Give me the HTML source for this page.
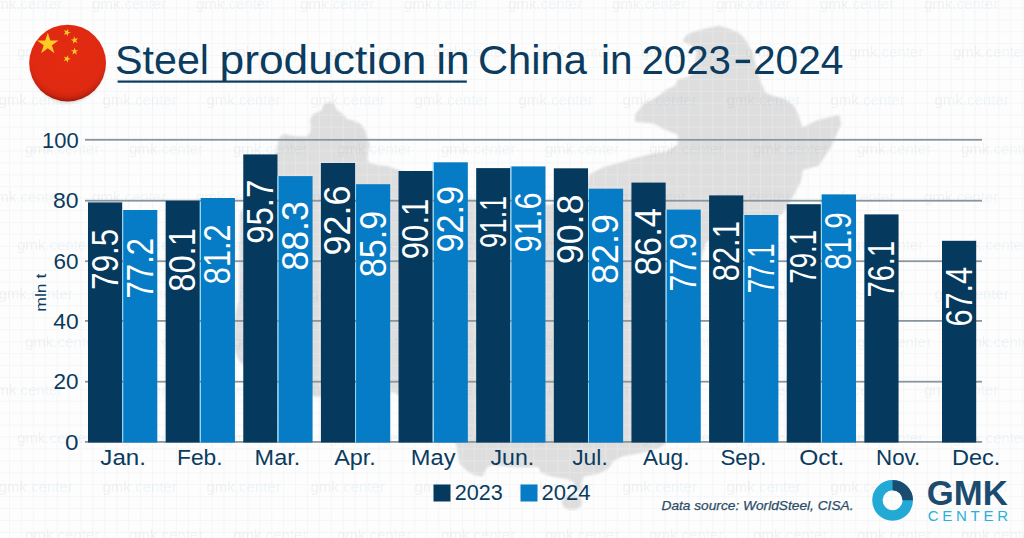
<!DOCTYPE html>
<html><head><meta charset="utf-8"><title>Steel production in China in 2023-2024</title>
<style>html,body{margin:0;padding:0;background:#fdfdfd;}body{width:1024px;height:538px;overflow:hidden;font-family:"Liberation Sans",sans-serif;}svg{display:block;font-family:"Liberation Sans",sans-serif;}</style></head><body>
<svg width="1024" height="538" viewBox="0 0 1024 538">
<defs>
<pattern id="grid" x="9" y="7.4" width="11.92" height="11.92" patternUnits="userSpaceOnUse"><path d="M0.5 0V11.92M0 0.5H11.92" stroke="#f5f6f6" stroke-width="1.1" fill="none"/></pattern>
<radialGradient id="flagg" cx="0.5" cy="0.4" r="0.6"><stop offset="0" stop-color="#e32b11"/><stop offset="0.8" stop-color="#df2a11"/><stop offset="0.91" stop-color="#cb2410"/><stop offset="1" stop-color="#9c1a09"/></radialGradient><filter id="blur1" x="-5%" y="-5%" width="110%" height="110%"><feGaussianBlur stdDeviation="0.9"/></filter><filter id="blur2" x="-20%" y="-20%" width="140%" height="140%"><feGaussianBlur stdDeviation="1.5"/></filter>
</defs>
<rect width="1024" height="538" fill="#fdfdfd"/>
<rect width="1024" height="538" fill="url(#grid)"/>
<polygon points="279,142 281,137 285,135 290,136.6 300,137.4 307,137.6 311,133.5 312,126.8 311,120 313.6,115 318,113 322,111.6 324.4,105 329.5,103.2 333.6,105 335.3,110 340.3,113.4 347,120 353.7,121.8 360.4,125 364.6,131.8 367,140 368.8,145 367,153.6 366.3,159.4 368.8,163.6 377,166 387.2,167 393.9,169.5 399,171 430,186 472,201 549,206 585,195 590.5,175 603,168.5 625,162 647,156 666,152.6 679,145 679,134 666,129 654,122.6 636,121 636,115 644,105 660,96 667,90.3 675.4,87 678.7,80.3 687.1,78.6 695,74 696,64 698,51.6 691,44 683.8,40.9 687.1,35.9 693.8,32.6 707.2,29.2 718.9,26.7 727.3,29.2 736.7,32.6 741.7,36.7 746.7,43.4 751.8,53.5 755,65.2 757.6,75.2 761,85.3 765.1,93.6 773.5,97 785.2,100.3 793.6,107 797.4,115 802,129 818,121 838.5,116 840,124 830.6,146 818,165 802,169 800,181 790,200 782,213 745,230 705,241 700,260 690,300 700,350 690,400 664,443.5 658,447.6 643.2,451.4 622.8,455.2 612.7,460.3 607.6,468 597.4,473 583,475.6 581,482 579.5,490 575.5,489 574.6,481 567,478 551.7,475.6 541.6,471.7 539,465.8 520,466.5 505,465.5 490.8,464 485.7,468 481.9,475.6 474,474 467.9,470.5 460.3,462.9 457,443.6 447,432 430,415 394,391 360,392 316,396 280,382 241,362 234,348 234,322 240,300 241,214 262,175 278,152" fill="#dedede" stroke="#dedede" stroke-width="2" stroke-linejoin="round" filter="url(#blur1)"/>
<ellipse cx="572" cy="502.3" rx="10.2" ry="7.6" fill="#dedede" filter="url(#blur1)"/>
<rect width="1024" height="538" fill="url(#grid)" opacity="0.3"/>
<g font-size="15" opacity="1">
<text x="-12.0" y="8.7" fill="#4a5560" fill-opacity="0.085">gmk<tspan fill="#1f78bb" fill-opacity="0.075">.center</tspan></text>
<text x="92.0" y="8.7" fill="#4a5560" fill-opacity="0.085">gmk<tspan fill="#1f78bb" fill-opacity="0.075">.center</tspan></text>
<text x="196.0" y="8.7" fill="#4a5560" fill-opacity="0.085">gmk<tspan fill="#1f78bb" fill-opacity="0.075">.center</tspan></text>
<text x="300.0" y="8.7" fill="#4a5560" fill-opacity="0.085">gmk<tspan fill="#1f78bb" fill-opacity="0.075">.center</tspan></text>
<text x="404.0" y="8.7" fill="#4a5560" fill-opacity="0.085">gmk<tspan fill="#1f78bb" fill-opacity="0.075">.center</tspan></text>
<text x="508.0" y="8.7" fill="#4a5560" fill-opacity="0.085">gmk<tspan fill="#1f78bb" fill-opacity="0.075">.center</tspan></text>
<text x="612.0" y="8.7" fill="#4a5560" fill-opacity="0.085">gmk<tspan fill="#1f78bb" fill-opacity="0.075">.center</tspan></text>
<text x="716.0" y="8.7" fill="#4a5560" fill-opacity="0.085">gmk<tspan fill="#1f78bb" fill-opacity="0.075">.center</tspan></text>
<text x="820.0" y="8.7" fill="#4a5560" fill-opacity="0.085">gmk<tspan fill="#1f78bb" fill-opacity="0.075">.center</tspan></text>
<text x="924.0" y="8.7" fill="#4a5560" fill-opacity="0.085">gmk<tspan fill="#1f78bb" fill-opacity="0.075">.center</tspan></text>
<text x="1028.0" y="8.7" fill="#4a5560" fill-opacity="0.085">gmk<tspan fill="#1f78bb" fill-opacity="0.075">.center</tspan></text>
<text x="17.0" y="57.0" fill="#4a5560" fill-opacity="0.085">gmk<tspan fill="#1f78bb" fill-opacity="0.075">.center</tspan></text>
<text x="121.0" y="57.0" fill="#4a5560" fill-opacity="0.085">gmk<tspan fill="#1f78bb" fill-opacity="0.075">.center</tspan></text>
<text x="225.0" y="57.0" fill="#4a5560" fill-opacity="0.085">gmk<tspan fill="#1f78bb" fill-opacity="0.075">.center</tspan></text>
<text x="329.0" y="57.0" fill="#4a5560" fill-opacity="0.085">gmk<tspan fill="#1f78bb" fill-opacity="0.075">.center</tspan></text>
<text x="433.0" y="57.0" fill="#4a5560" fill-opacity="0.085">gmk<tspan fill="#1f78bb" fill-opacity="0.075">.center</tspan></text>
<text x="537.0" y="57.0" fill="#4a5560" fill-opacity="0.085">gmk<tspan fill="#1f78bb" fill-opacity="0.075">.center</tspan></text>
<text x="641.0" y="57.0" fill="#4a5560" fill-opacity="0.085">gmk<tspan fill="#1f78bb" fill-opacity="0.075">.center</tspan></text>
<text x="745.0" y="57.0" fill="#4a5560" fill-opacity="0.085">gmk<tspan fill="#1f78bb" fill-opacity="0.075">.center</tspan></text>
<text x="849.0" y="57.0" fill="#4a5560" fill-opacity="0.085">gmk<tspan fill="#1f78bb" fill-opacity="0.075">.center</tspan></text>
<text x="953.0" y="57.0" fill="#4a5560" fill-opacity="0.085">gmk<tspan fill="#1f78bb" fill-opacity="0.075">.center</tspan></text>
<text x="1057.0" y="57.0" fill="#4a5560" fill-opacity="0.085">gmk<tspan fill="#1f78bb" fill-opacity="0.075">.center</tspan></text>
<text x="-1.5" y="105.3" fill="#4a5560" fill-opacity="0.085">gmk<tspan fill="#1f78bb" fill-opacity="0.075">.center</tspan></text>
<text x="102.5" y="105.3" fill="#4a5560" fill-opacity="0.085">gmk<tspan fill="#1f78bb" fill-opacity="0.075">.center</tspan></text>
<text x="206.5" y="105.3" fill="#4a5560" fill-opacity="0.085">gmk<tspan fill="#1f78bb" fill-opacity="0.075">.center</tspan></text>
<text x="310.5" y="105.3" fill="#4a5560" fill-opacity="0.085">gmk<tspan fill="#1f78bb" fill-opacity="0.075">.center</tspan></text>
<text x="414.5" y="105.3" fill="#4a5560" fill-opacity="0.085">gmk<tspan fill="#1f78bb" fill-opacity="0.075">.center</tspan></text>
<text x="518.5" y="105.3" fill="#4a5560" fill-opacity="0.085">gmk<tspan fill="#1f78bb" fill-opacity="0.075">.center</tspan></text>
<text x="622.5" y="105.3" fill="#4a5560" fill-opacity="0.085">gmk<tspan fill="#1f78bb" fill-opacity="0.075">.center</tspan></text>
<text x="726.5" y="105.3" fill="#4a5560" fill-opacity="0.085">gmk<tspan fill="#1f78bb" fill-opacity="0.075">.center</tspan></text>
<text x="830.5" y="105.3" fill="#4a5560" fill-opacity="0.085">gmk<tspan fill="#1f78bb" fill-opacity="0.075">.center</tspan></text>
<text x="934.5" y="105.3" fill="#4a5560" fill-opacity="0.085">gmk<tspan fill="#1f78bb" fill-opacity="0.075">.center</tspan></text>
<text x="1038.5" y="105.3" fill="#4a5560" fill-opacity="0.085">gmk<tspan fill="#1f78bb" fill-opacity="0.075">.center</tspan></text>
<text x="25.0" y="153.6" fill="#4a5560" fill-opacity="0.085">gmk<tspan fill="#1f78bb" fill-opacity="0.075">.center</tspan></text>
<text x="129.0" y="153.6" fill="#4a5560" fill-opacity="0.085">gmk<tspan fill="#1f78bb" fill-opacity="0.075">.center</tspan></text>
<text x="233.0" y="153.6" fill="#4a5560" fill-opacity="0.085">gmk<tspan fill="#1f78bb" fill-opacity="0.075">.center</tspan></text>
<text x="337.0" y="153.6" fill="#4a5560" fill-opacity="0.085">gmk<tspan fill="#1f78bb" fill-opacity="0.075">.center</tspan></text>
<text x="441.0" y="153.6" fill="#4a5560" fill-opacity="0.085">gmk<tspan fill="#1f78bb" fill-opacity="0.075">.center</tspan></text>
<text x="545.0" y="153.6" fill="#4a5560" fill-opacity="0.085">gmk<tspan fill="#1f78bb" fill-opacity="0.075">.center</tspan></text>
<text x="649.0" y="153.6" fill="#4a5560" fill-opacity="0.085">gmk<tspan fill="#1f78bb" fill-opacity="0.075">.center</tspan></text>
<text x="753.0" y="153.6" fill="#4a5560" fill-opacity="0.085">gmk<tspan fill="#1f78bb" fill-opacity="0.075">.center</tspan></text>
<text x="857.0" y="153.6" fill="#4a5560" fill-opacity="0.085">gmk<tspan fill="#1f78bb" fill-opacity="0.075">.center</tspan></text>
<text x="961.0" y="153.6" fill="#4a5560" fill-opacity="0.085">gmk<tspan fill="#1f78bb" fill-opacity="0.075">.center</tspan></text>
<text x="1065.0" y="153.6" fill="#4a5560" fill-opacity="0.085">gmk<tspan fill="#1f78bb" fill-opacity="0.075">.center</tspan></text>
<text x="-12.0" y="201.9" fill="#4a5560" fill-opacity="0.085">gmk<tspan fill="#1f78bb" fill-opacity="0.075">.center</tspan></text>
<text x="92.0" y="201.9" fill="#4a5560" fill-opacity="0.085">gmk<tspan fill="#1f78bb" fill-opacity="0.075">.center</tspan></text>
<text x="196.0" y="201.9" fill="#4a5560" fill-opacity="0.085">gmk<tspan fill="#1f78bb" fill-opacity="0.075">.center</tspan></text>
<text x="300.0" y="201.9" fill="#4a5560" fill-opacity="0.085">gmk<tspan fill="#1f78bb" fill-opacity="0.075">.center</tspan></text>
<text x="404.0" y="201.9" fill="#4a5560" fill-opacity="0.085">gmk<tspan fill="#1f78bb" fill-opacity="0.075">.center</tspan></text>
<text x="508.0" y="201.9" fill="#4a5560" fill-opacity="0.085">gmk<tspan fill="#1f78bb" fill-opacity="0.075">.center</tspan></text>
<text x="612.0" y="201.9" fill="#4a5560" fill-opacity="0.085">gmk<tspan fill="#1f78bb" fill-opacity="0.075">.center</tspan></text>
<text x="716.0" y="201.9" fill="#4a5560" fill-opacity="0.085">gmk<tspan fill="#1f78bb" fill-opacity="0.075">.center</tspan></text>
<text x="820.0" y="201.9" fill="#4a5560" fill-opacity="0.085">gmk<tspan fill="#1f78bb" fill-opacity="0.075">.center</tspan></text>
<text x="924.0" y="201.9" fill="#4a5560" fill-opacity="0.085">gmk<tspan fill="#1f78bb" fill-opacity="0.075">.center</tspan></text>
<text x="1028.0" y="201.9" fill="#4a5560" fill-opacity="0.085">gmk<tspan fill="#1f78bb" fill-opacity="0.075">.center</tspan></text>
<text x="17.0" y="250.2" fill="#4a5560" fill-opacity="0.085">gmk<tspan fill="#1f78bb" fill-opacity="0.075">.center</tspan></text>
<text x="121.0" y="250.2" fill="#4a5560" fill-opacity="0.085">gmk<tspan fill="#1f78bb" fill-opacity="0.075">.center</tspan></text>
<text x="225.0" y="250.2" fill="#4a5560" fill-opacity="0.085">gmk<tspan fill="#1f78bb" fill-opacity="0.075">.center</tspan></text>
<text x="329.0" y="250.2" fill="#4a5560" fill-opacity="0.085">gmk<tspan fill="#1f78bb" fill-opacity="0.075">.center</tspan></text>
<text x="433.0" y="250.2" fill="#4a5560" fill-opacity="0.085">gmk<tspan fill="#1f78bb" fill-opacity="0.075">.center</tspan></text>
<text x="537.0" y="250.2" fill="#4a5560" fill-opacity="0.085">gmk<tspan fill="#1f78bb" fill-opacity="0.075">.center</tspan></text>
<text x="641.0" y="250.2" fill="#4a5560" fill-opacity="0.085">gmk<tspan fill="#1f78bb" fill-opacity="0.075">.center</tspan></text>
<text x="745.0" y="250.2" fill="#4a5560" fill-opacity="0.085">gmk<tspan fill="#1f78bb" fill-opacity="0.075">.center</tspan></text>
<text x="849.0" y="250.2" fill="#4a5560" fill-opacity="0.085">gmk<tspan fill="#1f78bb" fill-opacity="0.075">.center</tspan></text>
<text x="953.0" y="250.2" fill="#4a5560" fill-opacity="0.085">gmk<tspan fill="#1f78bb" fill-opacity="0.075">.center</tspan></text>
<text x="1057.0" y="250.2" fill="#4a5560" fill-opacity="0.085">gmk<tspan fill="#1f78bb" fill-opacity="0.075">.center</tspan></text>
<text x="-1.5" y="298.5" fill="#4a5560" fill-opacity="0.085">gmk<tspan fill="#1f78bb" fill-opacity="0.075">.center</tspan></text>
<text x="102.5" y="298.5" fill="#4a5560" fill-opacity="0.085">gmk<tspan fill="#1f78bb" fill-opacity="0.075">.center</tspan></text>
<text x="206.5" y="298.5" fill="#4a5560" fill-opacity="0.085">gmk<tspan fill="#1f78bb" fill-opacity="0.075">.center</tspan></text>
<text x="310.5" y="298.5" fill="#4a5560" fill-opacity="0.085">gmk<tspan fill="#1f78bb" fill-opacity="0.075">.center</tspan></text>
<text x="414.5" y="298.5" fill="#4a5560" fill-opacity="0.085">gmk<tspan fill="#1f78bb" fill-opacity="0.075">.center</tspan></text>
<text x="518.5" y="298.5" fill="#4a5560" fill-opacity="0.085">gmk<tspan fill="#1f78bb" fill-opacity="0.075">.center</tspan></text>
<text x="622.5" y="298.5" fill="#4a5560" fill-opacity="0.085">gmk<tspan fill="#1f78bb" fill-opacity="0.075">.center</tspan></text>
<text x="726.5" y="298.5" fill="#4a5560" fill-opacity="0.085">gmk<tspan fill="#1f78bb" fill-opacity="0.075">.center</tspan></text>
<text x="830.5" y="298.5" fill="#4a5560" fill-opacity="0.085">gmk<tspan fill="#1f78bb" fill-opacity="0.075">.center</tspan></text>
<text x="934.5" y="298.5" fill="#4a5560" fill-opacity="0.085">gmk<tspan fill="#1f78bb" fill-opacity="0.075">.center</tspan></text>
<text x="1038.5" y="298.5" fill="#4a5560" fill-opacity="0.085">gmk<tspan fill="#1f78bb" fill-opacity="0.075">.center</tspan></text>
<text x="25.0" y="346.8" fill="#4a5560" fill-opacity="0.085">gmk<tspan fill="#1f78bb" fill-opacity="0.075">.center</tspan></text>
<text x="129.0" y="346.8" fill="#4a5560" fill-opacity="0.085">gmk<tspan fill="#1f78bb" fill-opacity="0.075">.center</tspan></text>
<text x="233.0" y="346.8" fill="#4a5560" fill-opacity="0.085">gmk<tspan fill="#1f78bb" fill-opacity="0.075">.center</tspan></text>
<text x="337.0" y="346.8" fill="#4a5560" fill-opacity="0.085">gmk<tspan fill="#1f78bb" fill-opacity="0.075">.center</tspan></text>
<text x="441.0" y="346.8" fill="#4a5560" fill-opacity="0.085">gmk<tspan fill="#1f78bb" fill-opacity="0.075">.center</tspan></text>
<text x="545.0" y="346.8" fill="#4a5560" fill-opacity="0.085">gmk<tspan fill="#1f78bb" fill-opacity="0.075">.center</tspan></text>
<text x="649.0" y="346.8" fill="#4a5560" fill-opacity="0.085">gmk<tspan fill="#1f78bb" fill-opacity="0.075">.center</tspan></text>
<text x="753.0" y="346.8" fill="#4a5560" fill-opacity="0.085">gmk<tspan fill="#1f78bb" fill-opacity="0.075">.center</tspan></text>
<text x="857.0" y="346.8" fill="#4a5560" fill-opacity="0.085">gmk<tspan fill="#1f78bb" fill-opacity="0.075">.center</tspan></text>
<text x="961.0" y="346.8" fill="#4a5560" fill-opacity="0.085">gmk<tspan fill="#1f78bb" fill-opacity="0.075">.center</tspan></text>
<text x="1065.0" y="346.8" fill="#4a5560" fill-opacity="0.085">gmk<tspan fill="#1f78bb" fill-opacity="0.075">.center</tspan></text>
<text x="-12.0" y="395.1" fill="#4a5560" fill-opacity="0.085">gmk<tspan fill="#1f78bb" fill-opacity="0.075">.center</tspan></text>
<text x="92.0" y="395.1" fill="#4a5560" fill-opacity="0.085">gmk<tspan fill="#1f78bb" fill-opacity="0.075">.center</tspan></text>
<text x="196.0" y="395.1" fill="#4a5560" fill-opacity="0.085">gmk<tspan fill="#1f78bb" fill-opacity="0.075">.center</tspan></text>
<text x="300.0" y="395.1" fill="#4a5560" fill-opacity="0.085">gmk<tspan fill="#1f78bb" fill-opacity="0.075">.center</tspan></text>
<text x="404.0" y="395.1" fill="#4a5560" fill-opacity="0.085">gmk<tspan fill="#1f78bb" fill-opacity="0.075">.center</tspan></text>
<text x="508.0" y="395.1" fill="#4a5560" fill-opacity="0.085">gmk<tspan fill="#1f78bb" fill-opacity="0.075">.center</tspan></text>
<text x="612.0" y="395.1" fill="#4a5560" fill-opacity="0.085">gmk<tspan fill="#1f78bb" fill-opacity="0.075">.center</tspan></text>
<text x="716.0" y="395.1" fill="#4a5560" fill-opacity="0.085">gmk<tspan fill="#1f78bb" fill-opacity="0.075">.center</tspan></text>
<text x="820.0" y="395.1" fill="#4a5560" fill-opacity="0.085">gmk<tspan fill="#1f78bb" fill-opacity="0.075">.center</tspan></text>
<text x="924.0" y="395.1" fill="#4a5560" fill-opacity="0.085">gmk<tspan fill="#1f78bb" fill-opacity="0.075">.center</tspan></text>
<text x="1028.0" y="395.1" fill="#4a5560" fill-opacity="0.085">gmk<tspan fill="#1f78bb" fill-opacity="0.075">.center</tspan></text>
<text x="17.0" y="443.4" fill="#4a5560" fill-opacity="0.085">gmk<tspan fill="#1f78bb" fill-opacity="0.075">.center</tspan></text>
<text x="121.0" y="443.4" fill="#4a5560" fill-opacity="0.085">gmk<tspan fill="#1f78bb" fill-opacity="0.075">.center</tspan></text>
<text x="225.0" y="443.4" fill="#4a5560" fill-opacity="0.085">gmk<tspan fill="#1f78bb" fill-opacity="0.075">.center</tspan></text>
<text x="329.0" y="443.4" fill="#4a5560" fill-opacity="0.085">gmk<tspan fill="#1f78bb" fill-opacity="0.075">.center</tspan></text>
<text x="433.0" y="443.4" fill="#4a5560" fill-opacity="0.085">gmk<tspan fill="#1f78bb" fill-opacity="0.075">.center</tspan></text>
<text x="537.0" y="443.4" fill="#4a5560" fill-opacity="0.085">gmk<tspan fill="#1f78bb" fill-opacity="0.075">.center</tspan></text>
<text x="641.0" y="443.4" fill="#4a5560" fill-opacity="0.085">gmk<tspan fill="#1f78bb" fill-opacity="0.075">.center</tspan></text>
<text x="745.0" y="443.4" fill="#4a5560" fill-opacity="0.085">gmk<tspan fill="#1f78bb" fill-opacity="0.075">.center</tspan></text>
<text x="849.0" y="443.4" fill="#4a5560" fill-opacity="0.085">gmk<tspan fill="#1f78bb" fill-opacity="0.075">.center</tspan></text>
<text x="953.0" y="443.4" fill="#4a5560" fill-opacity="0.085">gmk<tspan fill="#1f78bb" fill-opacity="0.075">.center</tspan></text>
<text x="1057.0" y="443.4" fill="#4a5560" fill-opacity="0.085">gmk<tspan fill="#1f78bb" fill-opacity="0.075">.center</tspan></text>
<text x="-1.5" y="491.7" fill="#4a5560" fill-opacity="0.085">gmk<tspan fill="#1f78bb" fill-opacity="0.075">.center</tspan></text>
<text x="102.5" y="491.7" fill="#4a5560" fill-opacity="0.085">gmk<tspan fill="#1f78bb" fill-opacity="0.075">.center</tspan></text>
<text x="206.5" y="491.7" fill="#4a5560" fill-opacity="0.085">gmk<tspan fill="#1f78bb" fill-opacity="0.075">.center</tspan></text>
<text x="310.5" y="491.7" fill="#4a5560" fill-opacity="0.085">gmk<tspan fill="#1f78bb" fill-opacity="0.075">.center</tspan></text>
<text x="414.5" y="491.7" fill="#4a5560" fill-opacity="0.085">gmk<tspan fill="#1f78bb" fill-opacity="0.075">.center</tspan></text>
<text x="518.5" y="491.7" fill="#4a5560" fill-opacity="0.085">gmk<tspan fill="#1f78bb" fill-opacity="0.075">.center</tspan></text>
<text x="622.5" y="491.7" fill="#4a5560" fill-opacity="0.085">gmk<tspan fill="#1f78bb" fill-opacity="0.075">.center</tspan></text>
<text x="726.5" y="491.7" fill="#4a5560" fill-opacity="0.085">gmk<tspan fill="#1f78bb" fill-opacity="0.075">.center</tspan></text>
<text x="830.5" y="491.7" fill="#4a5560" fill-opacity="0.085">gmk<tspan fill="#1f78bb" fill-opacity="0.075">.center</tspan></text>
<text x="934.5" y="491.7" fill="#4a5560" fill-opacity="0.085">gmk<tspan fill="#1f78bb" fill-opacity="0.075">.center</tspan></text>
<text x="1038.5" y="491.7" fill="#4a5560" fill-opacity="0.085">gmk<tspan fill="#1f78bb" fill-opacity="0.075">.center</tspan></text>
<text x="25.0" y="540.0" fill="#4a5560" fill-opacity="0.085">gmk<tspan fill="#1f78bb" fill-opacity="0.075">.center</tspan></text>
<text x="129.0" y="540.0" fill="#4a5560" fill-opacity="0.085">gmk<tspan fill="#1f78bb" fill-opacity="0.075">.center</tspan></text>
<text x="233.0" y="540.0" fill="#4a5560" fill-opacity="0.085">gmk<tspan fill="#1f78bb" fill-opacity="0.075">.center</tspan></text>
<text x="337.0" y="540.0" fill="#4a5560" fill-opacity="0.085">gmk<tspan fill="#1f78bb" fill-opacity="0.075">.center</tspan></text>
<text x="441.0" y="540.0" fill="#4a5560" fill-opacity="0.085">gmk<tspan fill="#1f78bb" fill-opacity="0.075">.center</tspan></text>
<text x="545.0" y="540.0" fill="#4a5560" fill-opacity="0.085">gmk<tspan fill="#1f78bb" fill-opacity="0.075">.center</tspan></text>
<text x="649.0" y="540.0" fill="#4a5560" fill-opacity="0.085">gmk<tspan fill="#1f78bb" fill-opacity="0.075">.center</tspan></text>
<text x="753.0" y="540.0" fill="#4a5560" fill-opacity="0.085">gmk<tspan fill="#1f78bb" fill-opacity="0.075">.center</tspan></text>
<text x="857.0" y="540.0" fill="#4a5560" fill-opacity="0.085">gmk<tspan fill="#1f78bb" fill-opacity="0.075">.center</tspan></text>
<text x="961.0" y="540.0" fill="#4a5560" fill-opacity="0.085">gmk<tspan fill="#1f78bb" fill-opacity="0.075">.center</tspan></text>
<text x="1065.0" y="540.0" fill="#4a5560" fill-opacity="0.085">gmk<tspan fill="#1f78bb" fill-opacity="0.075">.center</tspan></text>
</g>
<rect x="85" y="441.0" width="897" height="1.8" fill="#8a969e"/>
<text x="78.6" y="449.6" font-size="21.5" text-anchor="end" fill="#0b3b5e" textLength="13.5" lengthAdjust="spacingAndGlyphs">0</text>
<rect x="85" y="380.8" width="897" height="1.8" fill="#8a969e"/>
<text x="78.6" y="389.4" font-size="21.5" text-anchor="end" fill="#0b3b5e" textLength="25.0" lengthAdjust="spacingAndGlyphs">20</text>
<rect x="85" y="320.0" width="897" height="1.8" fill="#8a969e"/>
<text x="78.6" y="328.6" font-size="21.5" text-anchor="end" fill="#0b3b5e" textLength="25.3" lengthAdjust="spacingAndGlyphs">40</text>
<rect x="85" y="260.3" width="897" height="1.8" fill="#8a969e"/>
<text x="78.6" y="268.9" font-size="21.5" text-anchor="end" fill="#0b3b5e" textLength="25.0" lengthAdjust="spacingAndGlyphs">60</text>
<rect x="85" y="199.8" width="897" height="1.8" fill="#8a969e"/>
<text x="78.6" y="208.4" font-size="21.5" text-anchor="end" fill="#0b3b5e" textLength="25.5" lengthAdjust="spacingAndGlyphs">80</text>
<rect x="85" y="138.9" width="897" height="1.8" fill="#8a969e"/>
<text x="78.6" y="147.5" font-size="21.5" text-anchor="end" fill="#0b3b5e" textLength="36.6" lengthAdjust="spacingAndGlyphs">100</text>
<text transform="translate(46.4,292.7) rotate(-90)" font-size="15" text-anchor="middle" fill="#0b3b5e" textLength="38" lengthAdjust="spacingAndGlyphs">mln t</text>
<rect x="88.00" y="202.40" width="34.20" height="240.10" fill="#053a5e"/>
<text transform="translate(117.50,228.80) rotate(-90)" font-size="37" text-anchor="end" fill="#fff" textLength="61.00" lengthAdjust="spacingAndGlyphs">79.5</text>
<rect x="123.10" y="210.00" width="34.20" height="232.50" fill="#077cc6"/>
<rect x="122.15" y="210.00" width="1" height="232.50" fill="#8bd8fa"/>
<rect x="122.15" y="380.8" width="1" height="1.8" fill="#5f7888"/>
<rect x="122.15" y="320.0" width="1" height="1.8" fill="#5f7888"/>
<rect x="122.15" y="260.3" width="1" height="1.8" fill="#5f7888"/>
<text transform="translate(152.60,238.00) rotate(-90)" font-size="37" text-anchor="end" fill="#fff" textLength="60.40" lengthAdjust="spacingAndGlyphs">77.2</text>
<text x="100.35" y="465.3" font-size="21.5" fill="#0b3b5e" textLength="45.60" lengthAdjust="spacingAndGlyphs">Jan.</text>
<rect x="165.64" y="200.80" width="34.20" height="241.70" fill="#053a5e"/>
<text transform="translate(195.14,228.20) rotate(-90)" font-size="37" text-anchor="end" fill="#fff" textLength="63.60" lengthAdjust="spacingAndGlyphs">80.1</text>
<rect x="200.74" y="198.00" width="34.20" height="244.50" fill="#077cc6"/>
<rect x="199.79" y="198.00" width="1" height="244.50" fill="#8bd8fa"/>
<rect x="199.79" y="380.8" width="1" height="1.8" fill="#5f7888"/>
<rect x="199.79" y="320.0" width="1" height="1.8" fill="#5f7888"/>
<rect x="199.79" y="260.3" width="1" height="1.8" fill="#5f7888"/>
<rect x="199.79" y="199.8" width="1" height="1.8" fill="#5f7888"/>
<text transform="translate(230.24,224.40) rotate(-90)" font-size="37" text-anchor="end" fill="#fff" textLength="59.80" lengthAdjust="spacingAndGlyphs">81.2</text>
<text x="176.99" y="465.3" font-size="21.5" fill="#0b3b5e" textLength="45.60" lengthAdjust="spacingAndGlyphs">Feb.</text>
<rect x="243.27" y="154.40" width="34.20" height="288.10" fill="#053a5e"/>
<text transform="translate(272.77,179.80) rotate(-90)" font-size="37" text-anchor="end" fill="#fff" textLength="64.00" lengthAdjust="spacingAndGlyphs">95.7</text>
<rect x="278.37" y="176.10" width="34.20" height="266.40" fill="#077cc6"/>
<rect x="277.42" y="176.10" width="1" height="266.40" fill="#8bd8fa"/>
<rect x="277.42" y="380.8" width="1" height="1.8" fill="#5f7888"/>
<rect x="277.42" y="320.0" width="1" height="1.8" fill="#5f7888"/>
<rect x="277.42" y="260.3" width="1" height="1.8" fill="#5f7888"/>
<rect x="277.42" y="199.8" width="1" height="1.8" fill="#5f7888"/>
<text transform="translate(307.87,201.10) rotate(-90)" font-size="37" text-anchor="end" fill="#fff" textLength="69.60" lengthAdjust="spacingAndGlyphs">88.3</text>
<text x="254.62" y="465.3" font-size="21.5" fill="#0b3b5e" textLength="45.60" lengthAdjust="spacingAndGlyphs">Mar.</text>
<rect x="320.91" y="163.00" width="34.20" height="279.50" fill="#053a5e"/>
<text transform="translate(350.41,185.60) rotate(-90)" font-size="37" text-anchor="end" fill="#fff" textLength="70.00" lengthAdjust="spacingAndGlyphs">92.6</text>
<rect x="356.01" y="184.20" width="34.20" height="258.30" fill="#077cc6"/>
<rect x="355.06" y="184.20" width="1" height="258.30" fill="#8bd8fa"/>
<rect x="355.06" y="380.8" width="1" height="1.8" fill="#5f7888"/>
<rect x="355.06" y="320.0" width="1" height="1.8" fill="#5f7888"/>
<rect x="355.06" y="260.3" width="1" height="1.8" fill="#5f7888"/>
<rect x="355.06" y="199.8" width="1" height="1.8" fill="#5f7888"/>
<text transform="translate(385.51,210.80) rotate(-90)" font-size="37" text-anchor="end" fill="#fff" textLength="66.40" lengthAdjust="spacingAndGlyphs">85.9</text>
<text x="334.26" y="465.3" font-size="21.5" fill="#0b3b5e" textLength="41.60" lengthAdjust="spacingAndGlyphs">Apr.</text>
<rect x="398.54" y="171.00" width="34.20" height="271.50" fill="#053a5e"/>
<text transform="translate(428.04,198.60) rotate(-90)" font-size="37" text-anchor="end" fill="#fff" textLength="60.60" lengthAdjust="spacingAndGlyphs">90.1</text>
<rect x="433.64" y="162.30" width="34.20" height="280.20" fill="#077cc6"/>
<rect x="432.69" y="162.30" width="1" height="280.20" fill="#8bd8fa"/>
<rect x="432.69" y="380.8" width="1" height="1.8" fill="#5f7888"/>
<rect x="432.69" y="320.0" width="1" height="1.8" fill="#5f7888"/>
<rect x="432.69" y="260.3" width="1" height="1.8" fill="#5f7888"/>
<rect x="432.69" y="199.8" width="1" height="1.8" fill="#5f7888"/>
<text transform="translate(463.14,185.90) rotate(-90)" font-size="37" text-anchor="end" fill="#fff" textLength="66.60" lengthAdjust="spacingAndGlyphs">92.9</text>
<text x="410.89" y="465.3" font-size="21.5" fill="#0b3b5e" textLength="44.60" lengthAdjust="spacingAndGlyphs">May</text>
<rect x="476.18" y="168.10" width="34.20" height="274.40" fill="#053a5e"/>
<text transform="translate(505.68,195.90) rotate(-90)" font-size="37" text-anchor="end" fill="#fff" textLength="52.20" lengthAdjust="spacingAndGlyphs">91.1</text>
<rect x="511.28" y="166.40" width="34.20" height="276.10" fill="#077cc6"/>
<rect x="510.33" y="166.40" width="1" height="276.10" fill="#8bd8fa"/>
<rect x="510.33" y="380.8" width="1" height="1.8" fill="#5f7888"/>
<rect x="510.33" y="320.0" width="1" height="1.8" fill="#5f7888"/>
<rect x="510.33" y="260.3" width="1" height="1.8" fill="#5f7888"/>
<rect x="510.33" y="199.8" width="1" height="1.8" fill="#5f7888"/>
<text transform="translate(540.78,192.40) rotate(-90)" font-size="37" text-anchor="end" fill="#fff" textLength="60.00" lengthAdjust="spacingAndGlyphs">91.6</text>
<text x="490.53" y="465.3" font-size="21.5" fill="#0b3b5e" textLength="43.60" lengthAdjust="spacingAndGlyphs">Jun.</text>
<rect x="553.82" y="168.30" width="34.20" height="274.20" fill="#053a5e"/>
<text transform="translate(583.32,194.50) rotate(-90)" font-size="37" text-anchor="end" fill="#fff" textLength="69.80" lengthAdjust="spacingAndGlyphs">90.8</text>
<rect x="588.92" y="188.70" width="34.20" height="253.80" fill="#077cc6"/>
<rect x="587.97" y="188.70" width="1" height="253.80" fill="#8bd8fa"/>
<rect x="587.97" y="380.8" width="1" height="1.8" fill="#5f7888"/>
<rect x="587.97" y="320.0" width="1" height="1.8" fill="#5f7888"/>
<rect x="587.97" y="260.3" width="1" height="1.8" fill="#5f7888"/>
<rect x="587.97" y="199.8" width="1" height="1.8" fill="#5f7888"/>
<text transform="translate(618.42,214.10) rotate(-90)" font-size="37" text-anchor="end" fill="#fff" textLength="70.00" lengthAdjust="spacingAndGlyphs">82.9</text>
<text x="572.17" y="465.3" font-size="21.5" fill="#0b3b5e" textLength="35.60" lengthAdjust="spacingAndGlyphs">Jul.</text>
<rect x="631.45" y="182.60" width="34.20" height="259.90" fill="#053a5e"/>
<text transform="translate(660.95,207.80) rotate(-90)" font-size="37" text-anchor="end" fill="#fff" textLength="67.80" lengthAdjust="spacingAndGlyphs">86.4</text>
<rect x="666.55" y="209.60" width="34.20" height="232.90" fill="#077cc6"/>
<rect x="665.60" y="209.60" width="1" height="232.90" fill="#8bd8fa"/>
<rect x="665.60" y="380.8" width="1" height="1.8" fill="#5f7888"/>
<rect x="665.60" y="320.0" width="1" height="1.8" fill="#5f7888"/>
<rect x="665.60" y="260.3" width="1" height="1.8" fill="#5f7888"/>
<text transform="translate(696.05,233.00) rotate(-90)" font-size="37" text-anchor="end" fill="#fff" textLength="58.60" lengthAdjust="spacingAndGlyphs">77.9</text>
<text x="643.00" y="465.3" font-size="21.5" fill="#0b3b5e" textLength="46.40" lengthAdjust="spacingAndGlyphs">Aug.</text>
<rect x="709.09" y="195.40" width="34.20" height="247.10" fill="#053a5e"/>
<text transform="translate(738.59,221.20) rotate(-90)" font-size="37" text-anchor="end" fill="#fff" textLength="60.00" lengthAdjust="spacingAndGlyphs">82.1</text>
<rect x="744.19" y="215.00" width="34.20" height="227.50" fill="#077cc6"/>
<rect x="743.24" y="215.00" width="1" height="227.50" fill="#8bd8fa"/>
<rect x="743.24" y="380.8" width="1" height="1.8" fill="#5f7888"/>
<rect x="743.24" y="320.0" width="1" height="1.8" fill="#5f7888"/>
<rect x="743.24" y="260.3" width="1" height="1.8" fill="#5f7888"/>
<text transform="translate(773.69,243.40) rotate(-90)" font-size="37" text-anchor="end" fill="#fff" textLength="49.80" lengthAdjust="spacingAndGlyphs">77.1</text>
<text x="720.44" y="465.3" font-size="21.5" fill="#0b3b5e" textLength="46.00" lengthAdjust="spacingAndGlyphs">Sep.</text>
<rect x="786.72" y="204.20" width="34.20" height="238.30" fill="#053a5e"/>
<text transform="translate(816.22,229.80) rotate(-90)" font-size="37" text-anchor="end" fill="#fff" textLength="54.00" lengthAdjust="spacingAndGlyphs">79.1</text>
<rect x="821.82" y="194.40" width="34.20" height="248.10" fill="#077cc6"/>
<rect x="820.87" y="194.40" width="1" height="248.10" fill="#8bd8fa"/>
<rect x="820.87" y="380.8" width="1" height="1.8" fill="#5f7888"/>
<rect x="820.87" y="320.0" width="1" height="1.8" fill="#5f7888"/>
<rect x="820.87" y="260.3" width="1" height="1.8" fill="#5f7888"/>
<rect x="820.87" y="199.8" width="1" height="1.8" fill="#5f7888"/>
<text transform="translate(851.32,212.40) rotate(-90)" font-size="37" text-anchor="end" fill="#fff" textLength="57.40" lengthAdjust="spacingAndGlyphs">81.9</text>
<text x="799.27" y="465.3" font-size="21.5" fill="#0b3b5e" textLength="45.00" lengthAdjust="spacingAndGlyphs">Oct.</text>
<rect x="864.36" y="214.40" width="34.20" height="228.10" fill="#053a5e"/>
<text transform="translate(893.86,241.00) rotate(-90)" font-size="37" text-anchor="end" fill="#fff" textLength="56.40" lengthAdjust="spacingAndGlyphs">76.1</text>
<text x="876.11" y="465.3" font-size="21.5" fill="#0b3b5e" textLength="44.20" lengthAdjust="spacingAndGlyphs">Nov.</text>
<rect x="942.00" y="240.80" width="34.20" height="201.70" fill="#053a5e"/>
<text transform="translate(971.50,266.80) rotate(-90)" font-size="37" text-anchor="end" fill="#fff" textLength="59.80" lengthAdjust="spacingAndGlyphs">67.4</text>
<text x="951.95" y="465.3" font-size="21.5" fill="#0b3b5e" textLength="48.40" lengthAdjust="spacingAndGlyphs">Dec.</text>
<text x="115.00" y="74.4" font-size="40.5" fill="#0b3b5e" textLength="94.00" lengthAdjust="spacingAndGlyphs">Steel</text>
<text x="219.50" y="74.4" font-size="40.5" fill="#0b3b5e" textLength="207.00" lengthAdjust="spacingAndGlyphs">production</text>
<text x="436.50" y="74.4" font-size="40.5" fill="#0b3b5e" textLength="33.00" lengthAdjust="spacingAndGlyphs">in</text>
<text x="478.00" y="74.4" font-size="40.5" fill="#0b3b5e" textLength="109.00" lengthAdjust="spacingAndGlyphs">China</text>
<text x="601.00" y="74.4" font-size="40.5" fill="#0b3b5e" textLength="31.50" lengthAdjust="spacingAndGlyphs">in</text>
<text x="641.50" y="74.4" font-size="41.5" fill="#0b3b5e" textLength="89.50" lengthAdjust="spacingAndGlyphs">2023</text>
<text x="753.00" y="74.4" font-size="41.5" fill="#0b3b5e" textLength="90.50" lengthAdjust="spacingAndGlyphs">2024</text>
<rect x="735.7" y="59.7" width="14.4" height="3.4" fill="#0b3b5e"/>
<rect x="117.6" y="80.5" width="349.2" height="2.2" fill="#0b3b5e"/>
<ellipse cx="67.6" cy="65" rx="37" ry="37.5" fill="#b9a9a4" opacity="0.55" filter="url(#blur2)"/>
<circle cx="67.6" cy="63.1" r="38.4" fill="url(#flagg)"/>
<polygon points="47.80,32.70 50.34,40.51 58.55,40.51 51.91,45.33 54.44,53.14 47.80,48.32 41.16,53.14 43.69,45.33 37.05,40.51 45.26,40.51" fill="#fdca26"/>
<polygon points="68.23,28.84 68.14,31.67 70.80,32.64 68.07,33.42 67.97,36.25 66.39,33.90 63.67,34.68 65.41,32.45 63.83,30.10 66.49,31.07" fill="#fdca26"/>
<polygon points="73.92,36.36 75.25,38.86 78.04,38.37 76.08,40.41 77.41,42.91 74.86,41.67 72.89,43.71 73.28,40.90 70.74,39.66 73.53,39.17" fill="#fdca26"/>
<polygon points="74.60,47.50 75.48,50.19 78.31,50.19 76.02,51.86 76.89,54.56 74.60,52.89 72.31,54.56 73.18,51.86 70.89,50.19 73.72,50.19" fill="#fdca26"/>
<polygon points="68.23,55.24 68.14,58.07 70.80,59.04 68.07,59.82 67.97,62.65 66.39,60.30 63.67,61.08 65.41,58.85 63.83,56.50 66.49,57.47" fill="#fdca26"/>
<rect x="433.5" y="484.5" width="17" height="17" fill="#053a5e"/>
<text x="454.8" y="500.2" font-size="21.5" fill="#0b3b5e" textLength="48" lengthAdjust="spacingAndGlyphs">2023</text>
<rect x="520.5" y="484.5" width="17" height="17" fill="#077cc6"/>
<text x="541.6" y="500.2" font-size="21.5" fill="#0b3b5e" textLength="49" lengthAdjust="spacingAndGlyphs">2024</text>
<text x="661.5" y="510" font-size="13.5" font-style="italic" fill="#2b4c68" stroke="#2b4c68" stroke-width="0.25" textLength="192" lengthAdjust="spacingAndGlyphs">Data source: WorldSteel, CISA.</text>
<circle cx="892.6" cy="500.3" r="15.2" fill="none" stroke="#22a9d6" stroke-width="10.4"/>
<path d="M892.6 479.9 A20.4 20.4 0 0 1 913 500.3 L902.6 500.3 A10 10 0 0 0 892.6 490.3 Z" fill="#1b4b6e"/>
<text x="926.8" y="505" font-size="35" font-weight="bold" fill="#1b4b6e" textLength="81" lengthAdjust="spacingAndGlyphs">GMK</text>
<text x="927.8" y="520.8" font-size="15" fill="#2bb0d9" textLength="80.2" lengthAdjust="spacing">CENTER</text>
</svg></body></html>
